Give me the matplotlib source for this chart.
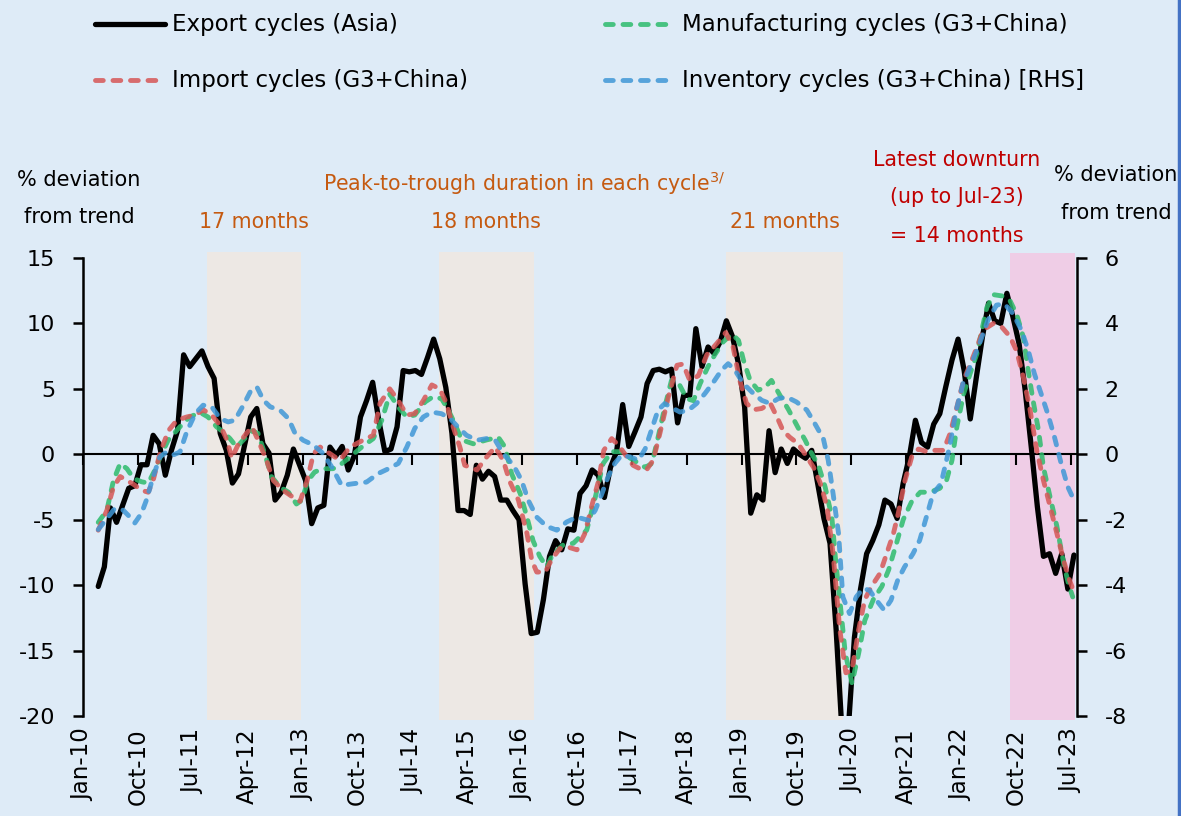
"""Asian export cycles against G3+China import, manufacturing and inventory cycles."""

import matplotlib

matplotlib.use("Agg")

import matplotlib.pyplot as plt
import matplotlib.transforms as mtransforms
from matplotlib.lines import Line2D
from matplotlib.markers import TICKDOWN

W, H = 1181, 816
BG = "#deebf7"
BEIGE = "#ede8e4"
PINK = "#efcde6"
ORANGE = "#c55a11"
DARK_RED = "#c00000"

# x positions are months counted from Jan-10 (= 0)
tick_labels = [
    "Jan-10", "Oct-10", "Jul-11", "Apr-12", "Jan-13", "Oct-13", "Jul-14",
    "Apr-15", "Jan-16", "Oct-16", "Jul-17", "Apr-18", "Jan-19", "Oct-19",
    "Jul-20", "Apr-21", "Jan-22", "Oct-22", "Jul-23",
]
tick_step = 9

# Export cycles (Asia), monthly from Mar-10 to Jul-23, LHS
export_start = 2
export_vals = [
    -10.1, -8.6, -4.1, -5.2, -3.9, -2.6, -2.4, -0.8, -0.8, 1.45,
    0.8, -1.6, 0.3, 1.8, 7.6, 6.7, 7.3, 7.9, 6.7, 5.8,
    1.6, 0.3, -2.2, -1.5, 0.7, 2.85, 3.5, 0.8, 0.1, -3.5,
    -2.9, -1.6, 0.4, -0.8, -2.0, -5.3, -4.1, -3.9, 0.55, -0.1,
    0.6, -1.2, -0.1, 2.85, 4.1, 5.5, 2.6, 0.2, 0.4, 2.1,
    6.4, 6.3, 6.4, 6.1, 7.4, 8.8, 7.3, 5.1, 1.6, -4.3,
    -4.3, -4.6, -0.84, -1.9, -1.3, -1.7, -3.5, -3.5, -4.3, -5.0,
    -9.9, -13.7, -13.6, -11.1, -7.8, -6.6, -7.3, -5.7, -5.8, -3.0,
    -2.4, -1.2, -1.6, -3.3, -1.0, 0.2, 3.8, 0.6, 1.7, 2.85,
    5.4, 6.4, 6.5, 6.3, 6.5, 2.4, 4.5, 4.5, 9.6, 6.7,
    8.2, 7.7, 8.6, 10.2, 9.0, 6.9, 3.6, -4.5, -3.1, -3.5,
    1.8, -1.4, 0.4, -0.7, 0.4, 0.0, -0.3, 0.3, -2.3, -4.9,
    -6.8, -13.4, -21.5, -21.0, -14.0, -10.3, -7.6, -6.6, -5.4, -3.5,
    -3.8, -4.9, -2.2, -0.2, 2.6, 0.9, 0.55, 2.3, 3.1, 5.2,
    7.2, 8.8, 6.4, 2.7, 5.9, 9.0, 11.55, 10.2, 10.0, 12.3,
    10.5, 8.45, 4.9, 0.55, -4.0, -7.8, -7.6, -9.1, -7.6, -10.3,
    -7.7,
]

# Import cycles (G3+China), LHS
import_t = [
    2.5, 3.9, 5.0, 6.1, 7.2, 8.3, 9.6, 10.7, 11.5, 12.6,
    14.0, 15.4, 17.0, 18.4, 19.7, 21.1, 22.5, 23.6, 24.4, 25.5,
    26.8, 27.7, 28.7, 30.1, 31.2, 32.8, 34.5, 35.6, 36.7, 37.8,
    38.9, 40.5, 42.1, 43.8, 46.0, 47.6, 48.7, 50.3, 51.7, 53.1,
    54.4, 55.8, 57.2, 58.5, 59.6, 60.7, 61.8, 62.6, 64.6, 66.2,
    67.6, 68.9, 70.0, 71.4, 72.8, 73.6, 74.4, 75.8, 76.9, 78.2,
    79.6, 81.0, 82.3, 83.4, 84.5, 85.4, 86.7, 87.8, 89.2, 90.2,
    91.3, 92.4, 93.5, 94.6, 96.0, 97.4, 98.4, 99.5, 100.9, 102.3,
    103.9, 105.4, 106.6, 107.7, 108.8, 109.9, 111.3, 112.7, 113.8, 114.8,
    115.9, 117.3, 118.7, 119.8, 120.9, 122.0, 123.0, 124.1, 125.1, 126.1,
    127.2, 128.2, 129.3, 130.7, 132.9, 133.7, 134.8, 135.9, 137.0, 138.4,
    139.7, 141.1, 142.2, 143.3, 144.4, 145.5, 146.6, 147.6, 149.3, 150.7,
    152.0, 153.1, 154.2, 155.3, 156.4, 157.5, 158.6, 159.7, 160.8, 161.6,
    162.4,
]
import_vals = [
    -5.8, -4.3, -2.5, -1.7, -2.0, -2.3, -2.75, -2.9, -2.0, 0.05,
    1.8, 2.6, 2.85, 3.0, 3.4, 3.0, 2.2, 1.1, -0.3, 0.8,
    1.6, 2.1, 1.1, -0.46, -2.0, -2.75, -3.3, -3.6, -2.1, 0.05,
    0.55, 0.05, -0.46, 0.55, 1.1, 1.45, 3.9, 5.0, 4.1, 3.0,
    3.1, 4.1, 5.3, 5.0, 3.9, 2.1, 0.55, -0.84, -1.2, -0.2,
    0.55, -0.46, -2.1, -3.5, -6.05, -8.1, -9.0, -9.0, -8.0, -7.2,
    -7.1, -7.3, -6.05, -4.0, -2.1, 0.3, 1.2, 0.7, -0.2, -0.84,
    -1.1, -1.2, -0.46, 1.6, 4.4, 6.8, 6.9, 5.65, 6.0, 7.6,
    8.45, 9.3, 8.2, 5.65, 3.9, 3.4, 3.5, 3.9, 2.85, 1.8,
    1.3, 0.8, -0.2, -1.0, -2.2, -4.0, -7.6, -13.4, -16.7, -16.5,
    -13.4, -11.1, -10.1, -9.1, -6.05, -4.5, -2.0, -0.2, 0.4, 0.2,
    0.3, 0.3, 1.6, 3.6, 5.65, 6.9, 8.2, 9.5, 10.0, 9.7,
    9.0, 7.9, 5.9, 3.4, 0.3, -2.0, -4.0, -6.05, -8.1, -9.4,
    -10.4,
]

# Manufacturing cycles (G3+China), LHS
manuf_t = [
    2.5, 3.9, 5.0, 6.1, 7.2, 8.3, 9.6, 10.7, 11.8, 12.9,
    14.0, 15.9, 17.5, 19.2, 20.5, 21.9, 23.0, 24.1, 25.2, 26.3,
    27.7, 28.7, 29.8, 30.9, 32.3, 33.7, 35.0, 35.9, 36.9, 38.0,
    39.4, 41.0, 42.1, 43.8, 45.7, 47.6, 49.0, 50.3, 51.7, 53.1,
    54.4, 56.1, 57.4, 58.8, 59.9, 61.0, 62.1, 64.0, 66.2, 68.1,
    69.2, 70.3, 71.7, 72.8, 73.8, 74.9, 76.0, 77.1, 78.8, 80.4,
    82.6, 84.0, 85.3, 86.7, 88.1, 89.4, 90.8, 92.2, 93.3, 94.3,
    95.4, 96.5, 97.6, 99.0, 100.1, 101.2, 102.5, 103.6, 105.0, 106.4,
    107.5, 108.3, 109.4, 110.7, 111.8, 112.9, 114.3, 115.7, 117.3, 118.4,
    119.5, 120.6, 121.7, 122.8, 123.4, 124.1, 125.0, 126.1, 127.2, 128.2,
    129.6, 131.0, 132.1, 133.4, 134.5, 135.9, 137.3, 138.9, 140.5, 141.6,
    142.5, 143.3, 144.4, 145.5, 146.6, 147.4, 148.2, 149.3, 150.7, 152.0,
    153.1, 154.2, 155.0, 155.8, 156.7, 157.5, 158.6, 159.7, 160.8, 161.6,
    162.3,
]
manuf_vals = [
    -5.2, -4.3, -2.0, -0.7, -1.1, -1.85, -2.1, -2.2, -1.2, 0.05,
    1.1, 2.1, 2.85, 3.2, 2.85, 2.1, 1.7, 1.2, 0.55, 1.1,
    1.8, 1.6, 0.05, -1.7, -2.5, -2.9, -3.8, -3.5, -2.0, -1.35,
    -1.1, -1.1, -0.84, -0.2, 0.55, 1.2, 2.6, 4.6, 3.6, 2.85,
    3.0, 4.0, 4.4, 4.25, 3.4, 2.3, 1.1, 0.8, 1.1, 1.3,
    0.55, -1.5, -3.0, -4.8, -6.6, -7.8, -8.6, -7.6, -6.9, -6.8,
    -5.8, -3.3, -0.7, 0.2, 0.2, -0.2, -0.6, -1.0, -0.7, 1.3,
    3.6, 5.65, 5.5, 4.25, 4.1, 5.4, 6.7, 7.6, 8.6, 9.2,
    8.7, 7.2, 5.65, 4.9, 5.1, 5.65, 4.5, 3.4, 2.0, 1.1,
    0.05, -0.84, -2.5, -4.8, -8.0, -11.1, -15.2, -17.5, -15.2, -12.7,
    -11.1, -10.1, -8.85, -6.8, -5.0, -3.6, -2.9, -2.9, -2.6, -2.0,
    -0.46, 2.1, 4.6, 6.2, 7.7, 9.5, 11.2, 12.2, 12.1, 11.75,
    10.7, 8.95, 6.4, 4.1, 1.8, -1.0, -3.3, -5.5, -8.3, -9.9,
    -10.9,
]

# Inventory cycles (G3+China), RHS
inventory_t = [
    2.5, 3.9, 5.2, 6.6, 7.7, 8.5, 9.6, 10.4, 11.5, 12.6,
    13.7, 14.8, 15.9, 17.0, 18.4, 19.7, 21.1, 22.5, 23.8, 24.9,
    26.3, 27.4, 28.5, 29.6, 30.7, 32.3, 33.7, 34.8, 36.1, 37.8,
    39.4, 40.8, 42.4, 44.3, 46.5, 48.4, 50.1, 51.7, 53.1, 54.4,
    55.8, 57.2, 58.8, 60.2, 61.5, 62.9, 64.6, 66.2, 67.6, 68.9,
    70.6, 71.9, 73.0, 74.4, 76.0, 77.7, 79.3, 81.0, 82.9, 84.0,
    85.1, 86.1, 87.2, 88.3, 89.7, 91.1, 92.2, 93.3, 94.3, 95.4,
    96.8, 97.9, 99.3, 100.6, 102.0, 103.4, 104.7, 105.8, 106.9, 108.3,
    109.7, 111.3, 112.7, 114.0, 115.4, 117.0, 118.7, 120.0, 121.4, 122.2,
    123.0, 123.9, 124.6, 125.7, 126.8, 127.9, 129.0, 130.1, 131.4, 132.5,
    133.6, 134.7, 136.1, 137.2, 138.3, 139.4, 140.7, 142.1, 143.2, 144.3,
    145.7, 147.0, 148.4, 149.8, 151.1, 152.5, 153.9, 155.0, 156.0, 157.1,
    158.2, 159.3, 160.4, 161.5, 162.5,
]
inventory_vals = [
    -2.3, -1.97, -1.66, -1.71, -1.92, -2.1, -1.8, -1.4, -0.69, -0.08,
    0.07, -0.02, 0.07, 0.68, 1.24, 1.5, 1.45, 1.09, 0.99, 1.04,
    1.5, 1.9, 2.06, 1.65, 1.45, 1.35, 1.09, 0.63, 0.43, 0.28,
    0.02, -0.39, -0.95, -0.9, -0.85, -0.59, -0.44, -0.28, 0.22, 0.79,
    1.14, 1.29, 1.24, 1.09, 0.83, 0.58, 0.43, 0.48, 0.43, 0.02,
    -0.34, -0.79, -1.4, -1.92, -2.2, -2.32, -2.07, -1.92, -2.02, -1.71,
    -1.2, -0.69, -0.28, -0.03, -0.08, -0.18, 0.17, 0.79, 1.35, 1.55,
    1.4, 1.29, 1.35, 1.55, 1.86, 2.21, 2.57, 2.77, 2.57, 2.16,
    1.9, 1.65, 1.55, 1.7, 1.75, 1.6, 1.35, 0.94, 0.48, -0.18,
    -1.2, -2.42, -4.36, -4.87, -4.36, -4.1, -4.16, -4.46, -4.77, -4.46,
    -3.85, -3.45, -3.04, -2.63, -1.92, -1.2, -0.9, 0.22, 1.35, 2.16,
    2.77, 3.38, 4.1, 4.56, 4.6, 4.3, 3.79, 3.18, 2.47, 1.86,
    1.24, 0.53, -0.28, -1.0, -1.4,
]

past_downturns = [(20.4, 35.8), (58.3, 74.0), (105.4, 124.7)]
past_durations = ["17 months", "18 months", "21 months"]
latest_downturn = (152.0, 162.6)

plt.rcParams["font.family"] = ["DejaVu Sans"]
plt.rcParams["axes.unicode_minus"] = False

DASH = (0, (1.6, 2.0))
styles = {
    "export": dict(color="black", lw=3.8, solid_capstyle="round"),
    "import": dict(color="#d65656", lw=3.5, ls=DASH, dash_capstyle="round", alpha=0.85),
    "manuf": dict(color="#2dbb6c", lw=3.5, ls=DASH, dash_capstyle="round", alpha=0.85),
    "inventory": dict(color="#3f97d6", lw=3.5, ls=DASH, dash_capstyle="round", alpha=0.85),
}


def px(x, y):
    """Pixel position (from top-left) to figure fraction."""
    return x / W, 1 - y / H


fig = plt.figure(figsize=(W / 100, H / 100), dpi=100, facecolor=BG)
ax = fig.add_axes([83 / W, 1 - 716 / H, 994 / W, 458 / H])
ax.set_facecolor(BG)
ax.set_xlim(0, 163)
ax.set_ylim(-20, 15)

for (a, b) in past_downturns:
    ax.axvspan(a, b, ymin=-0.009, ymax=1.013, color=BEIGE, lw=0, zorder=0, clip_on=False)
ax.axvspan(*latest_downturn, ymin=-0.009, ymax=1.011, color=PINK, lw=0, zorder=0, clip_on=False)

ticks = [i * tick_step for i in range(len(tick_labels))]
ax.axhline(0, color="black", lw=1.5, zorder=1)
ax.plot(ticks, [0] * len(ticks), ls="none", marker=TICKDOWN, ms=8, mew=1.5,
        color="black", clip_on=False, zorder=1)

export_x = [export_start + 0.5 + i for i in range(len(export_vals))]
ax.plot(export_x, export_vals, zorder=3, **styles["export"])
ax.plot(manuf_t, manuf_vals, zorder=4, **styles["manuf"])
ax.plot(import_t, import_vals, zorder=5, **styles["import"])

ax.set_xticks(ticks, tick_labels, rotation=90)
ax.tick_params(axis="x", length=0, pad=9, labelsize=16.5)
ax.set_yticks(range(-20, 16, 5))
ax.tick_params(axis="y", direction="out", length=7, width=1.8, pad=13, labelsize=16)
for side in ("top", "bottom", "right"):
    ax.spines[side].set_visible(False)
ax.spines["left"].set_linewidth(1.8)

ax2 = ax.twinx()
ax2.set_ylim(-8, 6)
ax2.set_yticks(range(-8, 7, 2))
ax2.plot(inventory_t, inventory_vals, zorder=6, **styles["inventory"])
ax2.tick_params(axis="y", direction="out", length=7, width=1.8, pad=13, labelsize=16)
for side in ("top", "bottom", "left"):
    ax2.spines[side].set_visible(False)
ax2.spines["right"].set_linewidth(1.8)
ax2.patch.set_visible(False)

# duration labels centred over each past downturn
trans = mtransforms.blended_transform_factory(ax.transData, ax.transAxes)
for (a, b), label in zip(past_downturns, past_durations):
    ax.text((a + b) / 2, 1.079, label, transform=trans, ha="center", va="center",
            fontsize=14.8, color=ORANGE)

fig.text(*px(524, 183), r"Peak-to-trough duration in each cycle$^{3/}$",
         ha="center", va="center", fontsize=14.8, color=ORANGE)
for y, line in zip((160, 197, 236), ("Latest downturn", "(up to Jul-23)", "= 14 months")):
    fig.text(*px(957, y), line, ha="center", va="center", fontsize=14.8, color=DARK_RED)
for x, ys in ((79, (180, 217)), (1116, (175, 213))):
    for y, line in zip(ys, ("% deviation", "from trend")):
        fig.text(*px(x, y), line, ha="center", va="center", fontsize=15)

# legend drawn by hand: two columns, two rows
legend_items = [
    (95, 24, "export", "Export cycles (Asia)"),
    (95, 80, "import", "Import cycles (G3+China)"),
    (605, 24, "manuf", "Manufacturing cycles (G3+China)"),
    (605, 80, "inventory", "Inventory cycles (G3+China) [RHS]"),
]
for x0, y, key, label in legend_items:
    x_a, yf = px(x0, y)
    x_b, _ = px(x0 + 70, y)
    fig.add_artist(Line2D([x_a, x_b], [yf, yf], **styles[key]))
    fig.text(*px(x0 + 77, y), label, ha="left", va="center", fontsize=16.5)

fig.add_artist(Line2D([0.9985, 0.9985], [0, 1], color="#4472c4", lw=2.5))

fig.savefig("out.png", dpi=100, facecolor=BG)
